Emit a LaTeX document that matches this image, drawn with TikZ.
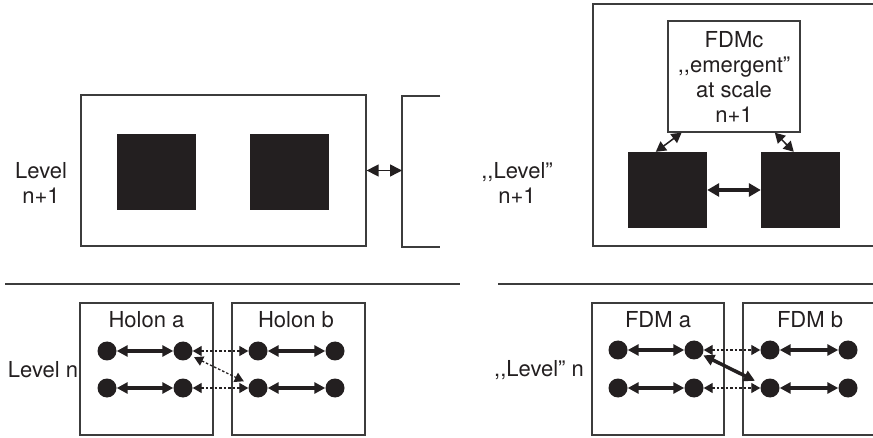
\documentclass[tikz,border=0pt]{standalone}
\usepackage{fontspec}
\setmainfont{TeX Gyre Heros}
\usetikzlibrary{arrows.meta}
\definecolor{ink}{RGB}{35,31,32}
\definecolor{framec}{RGB}{60,60,60}
% two separate low commas (no „ ligature)
\newcommand{\lowquote}{,\kern0pt,}
\begin{document}
\begin{tikzpicture}[x=1pt,y=-1pt,
  font=\fontsize{22}{25}\selectfont,
  boxframe/.style={draw=framec, line width=1.3pt, inner sep=0pt},
  blk/.style={fill=ink, draw=none, inner sep=0pt, minimum width=79pt, minimum height=76pt},
  bdot/.style={circle, fill=ink, draw=none, inner sep=0pt, minimum size=19pt},
  lbl/.style={align=center, inner sep=0pt, text=ink},
  thinlink/.style={draw=ink, line width=1.5pt, {Triangle[length=12pt,width=12pt]}-{Triangle[length=12pt,width=12pt]}},
  fatlink/.style={draw=ink, line width=3.5pt, {Triangle[length=12pt,width=13pt]}-{Triangle[length=12pt,width=13pt]}},
  diaglink/.style={draw=ink, line width=1.5pt, {Triangle[length=10pt,width=11pt]}-{Triangle[length=10pt,width=11pt]}},
  rowlink/.style={draw=ink, line width=3.5pt, {Triangle[length=11pt,width=11pt]}-{Triangle[length=11pt,width=11pt]}},
  dashlink/.style={draw=ink, line width=1.3pt, dash pattern=on 2.5pt off 2pt, {Triangle[length=9pt,width=10pt]}-{Triangle[length=9pt,width=10pt]}},
  sep/.style={draw=framec, line width=1.3pt}]
\useasboundingbox (0,0) rectangle (873,438);
\fill[white] (0,0) rectangle (873,438);
\clip (0,0) rectangle (873,438);

% ---------- upper left: level n+1 ----------
\node[lbl] (lvA) at (41,183) {Level\\n+1};
\node[boxframe, minimum width=285pt, minimum height=151pt] (holA) at (223.5,170.5) {};
\node[blk] (sqA1) at (156.5,172) {};
\node[blk] (sqA2) at (289.5,172) {};
% neighbouring holon, only its left part
\draw[framec, line width=1.3pt] (440,96) -- (402,96) -- (402,247) -- (440,247);
\coordinate (nbA) at (402,170.5);
\draw[thinlink] (holA.east) -- (nbA);

% ---------- upper right: "level" n+1 ----------
\node[lbl] (lvB) at (517,183) {\lowquote Level”\\n+1};
\node[boxframe, minimum width=287pt, minimum height=242pt] (holB) at (736.5,125) {};
\node[boxframe, lbl, minimum width=132pt, minimum height=111pt] (fdmc) at (734,76.5)
  {FDMc\\\lowquote emergent”\\at scale\\n+1};
\node[blk] (sqB1) at (667.5,190) {};
\node[blk] (sqB2) at (800.5,190) {};
\draw[fatlink] (sqB1.east) -- (sqB2.west);
\draw[diaglink] (sqB1.107) -- (fdmc.227);
\draw[diaglink] (sqB2.100) -- (fdmc.306);

% ---------- separators ----------
\draw[sep] (5,284) -- (460,284);
\draw[sep] (498,284) -- (873,284);

% ---------- lower left: level n ----------
\node[lbl] (lvC) at (43,370) {Level n};
\node[boxframe, minimum width=133pt, minimum height=132pt] (hA) at (146.5,369) {};
\node[boxframe, minimum width=133pt, minimum height=132pt] (hB) at (298.5,369) {};
\node[lbl] (hAt) at (146.5,320) {Holon a};
\node[lbl] (hBt) at (296,320) {Holon b};
\foreach \i/\x in {1/107,2/183,3/258,4/335}{
  \node[bdot] (l1\i) at (\x,351) {};
  \node[bdot] (l2\i) at (\x,388) {};
}
\draw[rowlink] (l11) -- (l12);
\draw[rowlink] (l13) -- (l14);
\draw[rowlink] (l21) -- (l22);
\draw[rowlink] (l23) -- (l24);
\draw[dashlink] (l12) -- (l13);
\draw[dashlink] (l22) -- (l23);
\draw[dashlink, shorten <=3pt, shorten >=6pt] (l12.-30) -- (l23.155);

% ---------- lower right: "level" n ----------
\node[lbl] (lvD) at (539,370) {\lowquote Level” n};
\node[boxframe, minimum width=132pt, minimum height=132pt] (fA) at (658,369) {};
\node[boxframe, minimum width=137pt, minimum height=132pt] (fB) at (811.5,369) {};
\node[lbl] (fAt) at (658,320) {FDM a};
\node[lbl] (fBt) at (810,320) {FDM b};
\foreach \i/\x in {1/618,2/694,3/770,4/848}{
  \node[bdot] (r1\i) at (\x,350) {};
  \node[bdot] (r2\i) at (\x,388) {};
}
\draw[rowlink] (r11) -- (r12);
\draw[rowlink] (r13) -- (r14);
\draw[rowlink] (r21) -- (r22);
\draw[rowlink] (r23) -- (r24);
\draw[dashlink] (r12) -- (r13);
\draw[dashlink] (r22) -- (r23);
\draw[rowlink, shorten <=1pt, shorten >=7pt] (r12.-30) -- (r23.155);
\end{tikzpicture}
\end{document}
